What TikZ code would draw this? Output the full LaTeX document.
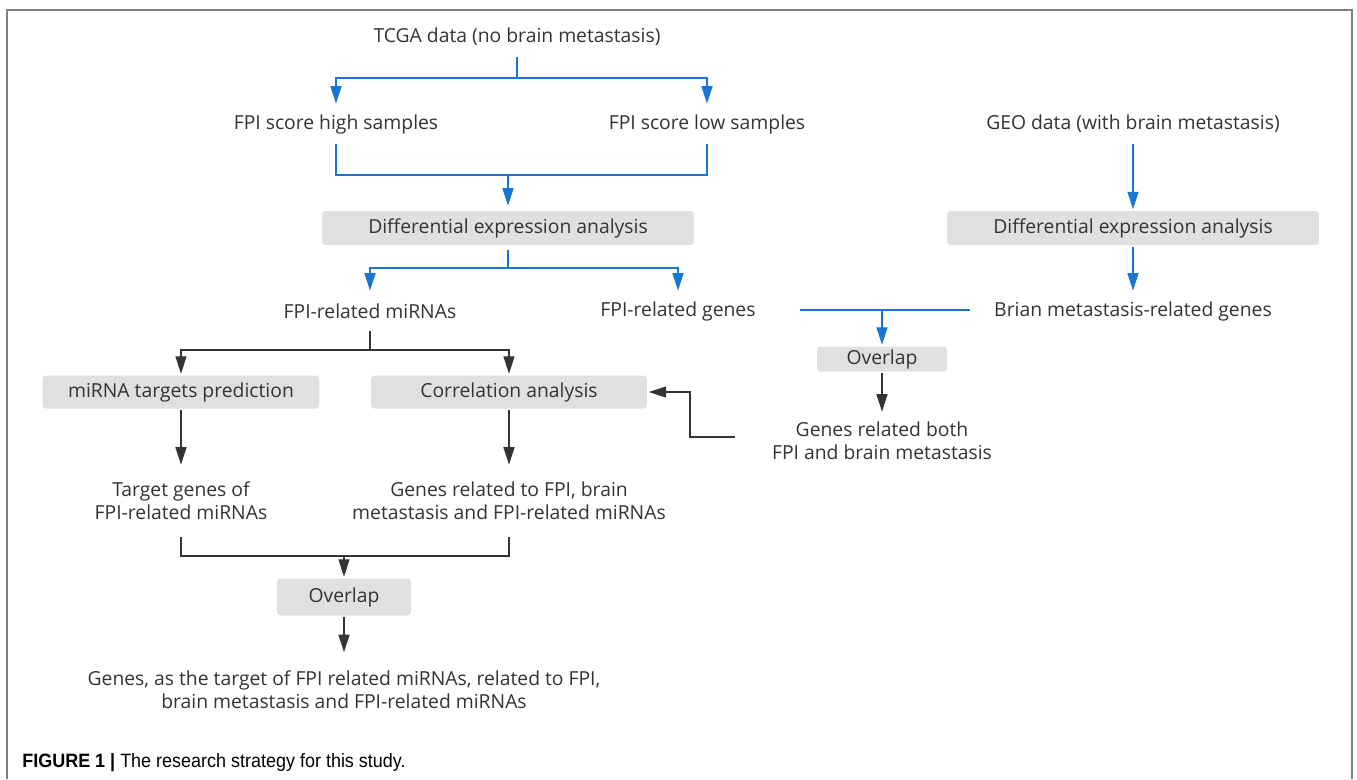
\documentclass[tikz,border=0pt]{standalone}
\usepackage{fontspec}
\setmainfont{Open Sans}
\newfontfamily\capfont[FakeStretch=0.93]{Liberation Sans}
\usetikzlibrary{arrows.meta}
\definecolor{flowblue}{RGB}{25,118,210}
\definecolor{flowdark}{RGB}{51,51,51}
\definecolor{boxgray}{RGB}{224,224,224}
\definecolor{framegray}{RGB}{128,128,128}

\begin{document}
\begin{tikzpicture}[x=0.02cm, y=-0.02cm,
    lbl/.style={font=\fontsize{11}{13}\selectfont, text=flowdark, align=center, inner sep=0pt, minimum height=0.8cm},
    gbox/.style={lbl, fill=boxgray, rounded corners=2pt, outer sep=1pt},
    bline/.style={draw=flowblue, line width=0.8pt},
    barrow/.style={bline, -{Triangle[length=0.35cm, width=0.22cm]}},
    kline/.style={draw=flowdark, line width=0.8pt},
    karrow/.style={kline, -{Triangle[length=0.35cm, width=0.22cm]}}]
    \useasboundingbox (0,0) rectangle (1357,779);
    \draw[framegray, line width=0.8pt] (7,779) -- (7,10) -- (1352,10) -- (1352,779);

    \node[lbl] (tcga) at (517,37) {TCGA data (no brain metastasis)};
    \node[lbl] (high) at (336,124) {FPI score high samples};
    \node[lbl] (low) at (707,124) {FPI score low samples};
    \node[gbox, minimum width=7.44cm, minimum height=0.68cm, outer sep=3pt] (dea) at (508,228) {Differential expression analysis};
    \node[lbl] (mirna) at (370,311) {FPI-related miRNAs};
    \node[lbl] (fgenes) at (678,311) {FPI-related genes};
    \node[lbl] (geo) at (1133,124) {GEO data (with brain metastasis)};
    \node[gbox, minimum width=7.44cm, minimum height=0.68cm] (deab) at (1133,228) {Differential expression analysis};
    \node[lbl] (brian) at (1133,311) {Brian metastasis-related genes};
    \node[gbox, minimum width=2.6cm, minimum height=0.5cm] (ovr) at (882,359) {Overlap};
    \node[lbl, minimum height=1.16cm] (both) at (882,441) {Genes related both\\FPI and brain metastasis};
    \node[gbox, minimum width=5.54cm, minimum height=0.66cm] (pred) at (181,392) {miRNA targets prediction};
    \node[gbox, minimum width=5.52cm, minimum height=0.66cm] (corr) at (509,392) {Correlation analysis};
    \node[lbl, minimum height=1.44cm] (tgt) at (181,501) {Target genes of\\FPI-related miRNAs};
    \node[lbl, minimum height=1.44cm] (rel) at (509,501) {Genes related to FPI, brain\\metastasis and FPI-related miRNAs};
    \node[gbox, minimum width=2.68cm, minimum height=0.74cm] (ovb) at (344,597) {Overlap};
    \node[lbl, minimum height=1.5cm] (final) at (344,690) {Genes, as the target of FPI related miRNAs, related to FPI,\\brain metastasis and FPI-related miRNAs};
    \node[anchor=base west, inner sep=0pt, font=\capfont\fontsize{11}{13}\selectfont] (caption) at (22,767) {\textbf{FIGURE 1 |} The research strategy for this study.};

    \coordinate (j1) at (517,78);
    \coordinate (j2) at (508,175);
    \coordinate (j3) at (508,268);
    \coordinate (j4) at (370,350);
    \coordinate (j5) at (344,556);
    \coordinate (m1) at (800,310);
    \coordinate (m2) at (970,310);
    \coordinate (fb) at (735,437);

    \draw[bline] (tcga) -- (j1);
    \draw[barrow] (j1) -| (high);
    \draw[barrow] (j1) -| (low);
    \draw[bline] (high) |- (j2) -| (low);
    \draw[barrow] (j2) -- (dea);
    \draw[bline] (dea) -- (j3);
    \draw[barrow] (j3) -| (mirna);
    \draw[barrow] (j3) -| (fgenes);
    \draw[barrow] (geo) -- (deab);
    \draw[barrow] (deab) -- (brian);
    \draw[bline] (m1) -- (m2);
    \draw[barrow] (ovr |- m1) -- (ovr);
    \draw[karrow] (ovr) -- (both);
    \draw[karrow] (fb) -- ++(-45,0) |- (corr);
    \draw[kline] (mirna) -- (j4);
    \draw[karrow] (j4) -| (pred);
    \draw[karrow] (j4) -| (corr);
    \draw[karrow] (pred) -- (tgt);
    \draw[karrow] (corr) -- (rel);
    \draw[kline] (tgt) |- (j5) -| (rel);
    \draw[karrow] (j5) -- (ovb);
    \draw[karrow] (ovb) -- (final);
\end{tikzpicture}
\end{document}
